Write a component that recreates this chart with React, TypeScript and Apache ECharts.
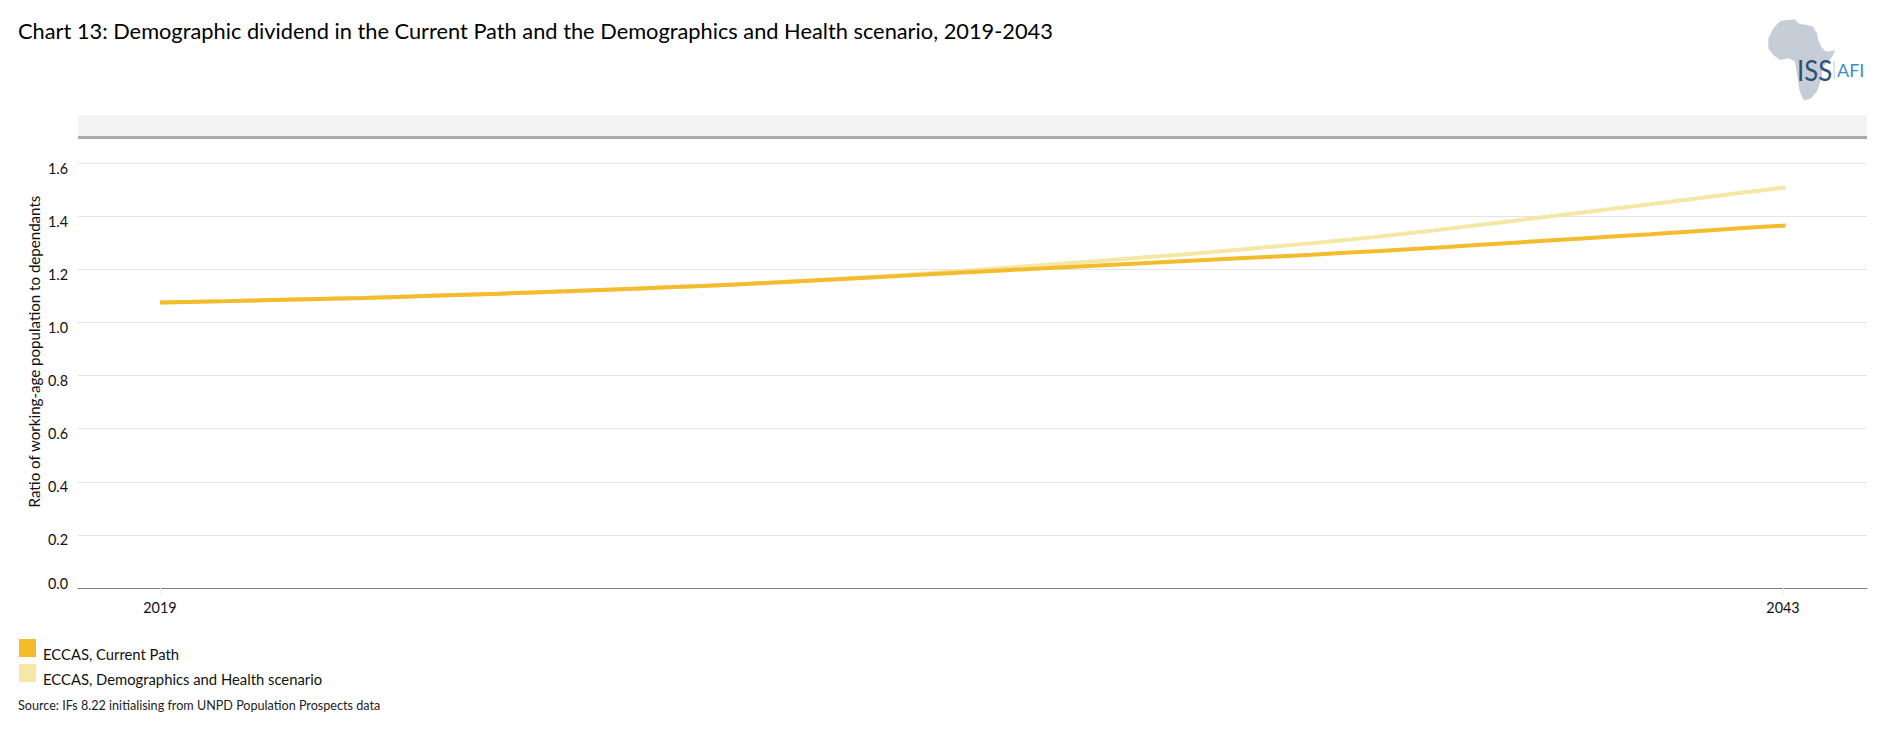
import React, { useEffect, useRef } from "react";
import * as echarts from "echarts";

const years = [2019,2020,2021,2022,2023,2024,2025,2026,2027,2028,2029,2030,2031,2032,2033,2034,2035,2036,2037,2038,2039,2040,2041,2042,2043];
const currentPath = [1.075,1.080,1.086,1.092,1.100,1.108,1.117,1.127,1.137,1.149,1.162,1.176,1.190,1.203,1.216,1.229,1.242,1.255,1.269,1.284,1.300,1.316,1.332,1.349,1.365];
const demographicsHealth = [1.075,1.080,1.086,1.092,1.100,1.108,1.117,1.127,1.137,1.149,1.163,1.179,1.197,1.215,1.234,1.254,1.275,1.298,1.323,1.352,1.383,1.414,1.445,1.477,1.508];
const xTickLabels = [2019, 2042.96];
const seriesNames = ["ECCAS, Current Path", "ECCAS, Demographics and Health scenario"];
const titleText = "Chart 13: Demographic dividend in the Current Path and the Demographics and Health scenario, 2019-2043";
const sourceText = "Source: IFs 8.22 initialising from UNPD Population Prospects data";
const yAxisName = "Ratio of working-age population to dependants";

const FONT = "Lato, Carlito, sans-serif";
const AFRICA = "M62 32 L82 30 L105 28 L112 36 L120 42 L140 44 L160 50 L166 62 L172 72 L174 88 L185 112 L195 122 L205 125 L225 120 L218 138 L205 155 L195 165 L186 180 L186 195 L181 215 L172 243 L152 266 L132 272 L125 258 L118 240 L114 212 L110 185 L105 155 L85 145 L60 150 L40 135 L25 115 L25 85 L40 55 Z";
echarts.graphic.registerShape("africa", echarts.graphic.extendPath(AFRICA, {}) as any);

export default function App() {
  const ref = useRef<HTMLDivElement>(null);
  useEffect(() => {
    document.body.style.margin = "0";
    const chart = echarts.init(ref.current!, undefined, { renderer: "svg" });
    const tick = { fontFamily: FONT, fontSize: 14.4, color: "#111" };
    chart.setOption({
      animation: false,
      backgroundColor: "#ffffff",
      textStyle: { fontFamily: FONT },
      grid: { left: 78, right: 13, top: 163, bottom: 151, containLabel: false },
      legend: {
        left: 19, top: 639, orient: "vertical", icon: "rect", padding: 0,
        itemWidth: 17, itemHeight: 18, itemGap: 3,
        data: [...seriesNames],
        formatter: (n: string) => `{a|${n}}`,
        textStyle: {
          fontFamily: FONT, fontSize: 14.8, color: "#111",
          rich: { a: { fontFamily: FONT, fontSize: 14.8, color: "#111", padding: [11, 0, 0, 2] } },
        },
      },
      xAxis: {
        type: "value", min: 2017.79, max: 2044.2,
        splitLine: { show: false },
        axisLine: { show: true, onZero: false, lineStyle: { color: "#808080", width: 1 } },
        axisTick: { show: true, customValues: xTickLabels, length: 7, lineStyle: { color: "#EFEFEF" } },
        axisLabel: { customValues: xTickLabels, formatter: (v: number) => String(Math.round(v)), ...tick, margin: 12 },
      },
      yAxis: {
        type: "value", min: 0, max: 1.6, interval: 0.2,
        name: yAxisName, nameLocation: "middle", nameGap: 37, nameRotate: 90, nameMoveOverlap: false,
        nameTextStyle: { fontFamily: FONT, fontSize: 15.1, color: "#111", padding: [0, 0, 0, 48] },
        axisLine: { show: false }, axisTick: { show: false },
        splitLine: { lineStyle: { color: "#E4E4E4", width: 1.2 } },
        axisLabel: {
          ...tick, margin: 10,
          formatter: (v: number) => (v === 0 ? `{z|${v.toFixed(1)}}` : `{a|${v.toFixed(1)}}`),
          rich: {
            a: { ...tick, padding: [10, 0, 0, 0] },
            z: { ...tick, padding: [0, 0, 9, 0] },
          },
        },
      },
      series: [
        {
          name: seriesNames[1], type: "line", z: 2, showSymbol: false, smooth: 0.3,
          color: "#F5E7A6",
          lineStyle: { color: "#F5E7A6", width: 4, cap: "butt" },
          data: years.map((y, i) => [y, demographicsHealth[i]]),
        },
        {
          name: seriesNames[0], type: "line", z: 3, showSymbol: false, smooth: 0.3,
          color: "#F2BC2C",
          lineStyle: { color: "#F2BC2C", width: 4, cap: "butt" },
          data: years.map((y, i) => [y, currentPath[i]]),
        },
      ],
      graphic: [
        { type: "text", left: 18, top: 19, style: { text: titleText, fontFamily: FONT, fontSize: 21.8, fill: "#000" } },
        { type: "text", left: 18, top: 699, style: { text: sourceText, fontFamily: FONT, fontSize: 12.6, fill: "#222" } },
        { type: "rect", shape: { x: 78, y: 115, width: 1789, height: 21 }, style: { fill: "#F4F4F4" } },
        { type: "rect", shape: { x: 78, y: 136, width: 1789, height: 3 }, style: { fill: "#ABABAB" } },
        { type: "africa", x: 1760, y: 10, scaleX: 1 / 3, scaleY: 1 / 3, style: { fill: "#C6CDD6" } },
        { type: "text", x: 1797, y: 56, scaleX: 0.92, scaleY: 1, style: { text: "ISS", fontFamily: FONT, fontSize: 28, fill: "#2B5075" } },
        { type: "rect", shape: { x: 1833.5, y: 61, width: 1.5, height: 18 }, style: { fill: "#CFE0D8" } },
        { type: "text", x: 1837, y: 61, style: { text: "AFI", fontFamily: FONT, fontSize: 18, fill: "#3D8FC4" } },
      ],
    });
    return () => chart.dispose();
  }, []);
  return <div ref={ref} style={{ width: 1880, height: 739 }} />;
}
